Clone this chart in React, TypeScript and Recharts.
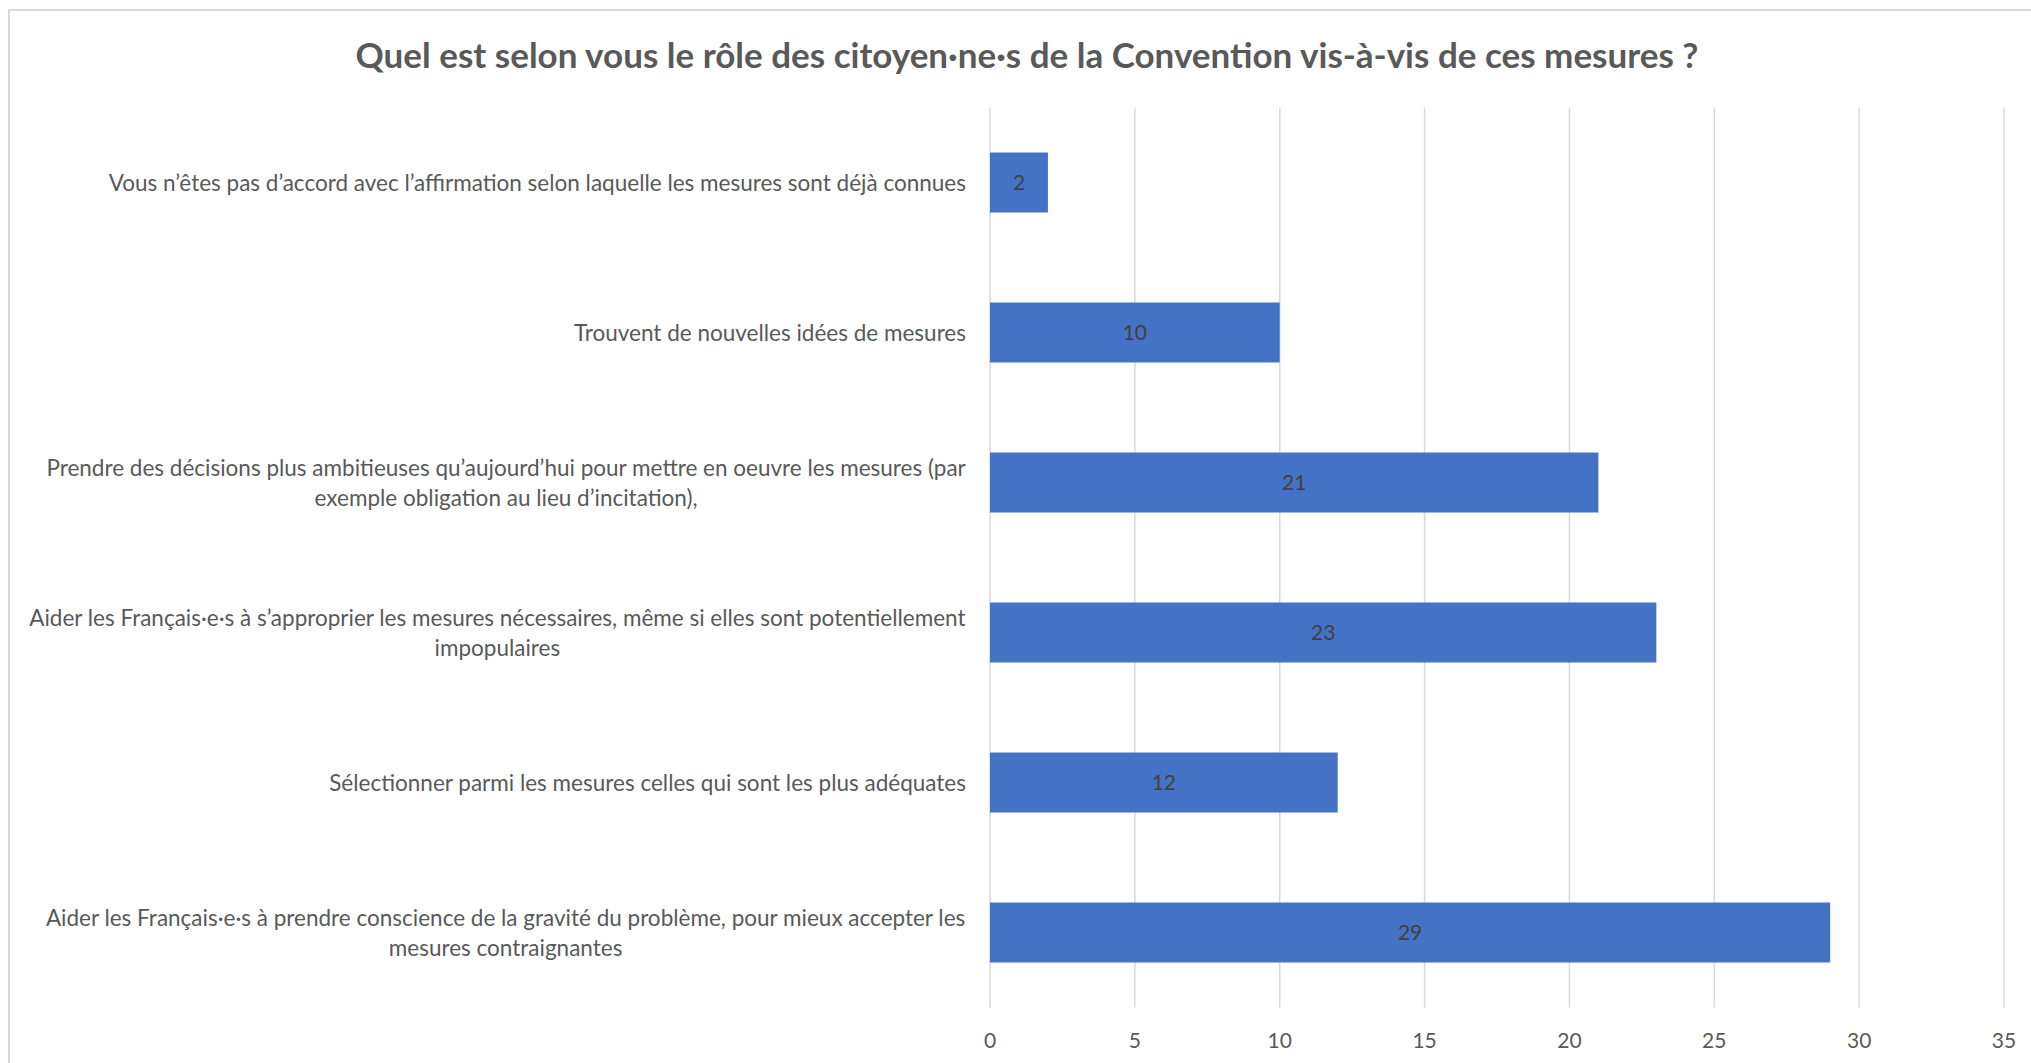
import React from "react";
import { BarChart, Bar, XAxis, YAxis, CartesianGrid, LabelList } from "recharts";

const title = "Quel est selon vous le rôle des citoyen·ne·s de la Convention vis-à-vis de ces mesures ?";

// line breaks follow the wrapping seen in the original
const categories = [
  "Vous n’êtes pas d’accord avec l’affirmation selon laquelle les mesures sont déjà connues",
  "Trouvent de nouvelles idées de mesures",
  "Prendre des décisions plus ambitieuses qu’aujourd’hui pour mettre en oeuvre les mesures (par\nexemple obligation au lieu d’incitation),",
  "Aider les Français·e·s à s’approprier les mesures nécessaires, même si elles sont potentiellement\nimpopulaires",
  "Sélectionner parmi les mesures celles qui sont les plus adéquates",
  "Aider les Français·e·s à prendre conscience de la gravité du problème, pour mieux accepter les\nmesures contraignantes",
];
const counts = [2, 10, 21, 23, 12, 29];
const xTicks = [0, 5, 10, 15, 20, 25, 30, 35];

const FONT = "Lato, 'Open Sans', sans-serif";
const LABEL_SIZE = 22.5;
const TICK_SIZE = 21;

const data = categories.map((name, i) => ({ name, value: counts[i] }));

let ctx: CanvasRenderingContext2D | null = null;
function textWidth(s: string): number {
  if (!ctx) ctx = document.createElement("canvas").getContext("2d");
  if (!ctx) return s.length * LABEL_SIZE * 0.5;
  ctx.font = `${LABEL_SIZE}px Lato`;
  return ctx.measureText(s).width;
}

function CategoryTick({ x, y, payload }: { x?: number; y?: number; payload?: { value: string } }) {
  const lines = String(payload?.value ?? "").split("\n");
  const maxW = Math.max(...lines.map(textWidth));
  const right = (x ?? 0) - 24;
  const cx = right - maxW / 2;
  const lh = 30;
  const y0 = (y ?? 0) - ((lines.length - 1) * lh) / 2;
  return (
    <g>
      {lines.map((l, i) => (
        <text
          key={i}
          x={lines.length > 1 ? cx : right}
          y={y0 + i * lh}
          textAnchor={lines.length > 1 ? "middle" : "end"}
          dominantBaseline="central"
          fill="#595959"
          fontSize={LABEL_SIZE}
          fontFamily={FONT}
        >
          {l}
        </text>
      ))}
    </g>
  );
}

function ValueTick({ x, y, payload }: { x?: number; y?: number; payload?: { value: number } }) {
  return (
    <text
      x={x}
      y={(y ?? 0) + 31.5}
      textAnchor="middle"
      dominantBaseline="central"
      fill="#595959"
      fontSize={TICK_SIZE}
      fontFamily={FONT}
    >
      {payload?.value}
    </text>
  );
}

export default function App() {
  return (
    <div style={{ position: "absolute", left: 0, top: 0, width: 2031, height: 1063, background: "#fff", overflow: "hidden" }}>
      <div style={{
        position: "absolute",
        left: 8,
        top: 9,
        width: 2040,
        height: 1070,
        borderLeft: "2px solid #d9d9d9",
        borderTop: "2px solid #d9d9d9",
      }} />
      <div style={{
        position: "absolute",
        left: 1027,
        top: 54,
        transform: "translate(-50%, -50%)",
        whiteSpace: "nowrap",
        fontFamily: FONT,
        fontWeight: 700,
        fontSize: 35,
        color: "#595959",
      }}>
        {title}
      </div>
      <BarChart
        width={2031}
        height={1063}
        data={data}
        layout="vertical"
        barCategoryGap="30%"
        margin={{ top: 107.5, right: 27, bottom: 0, left: 0 }}
      >
        <CartesianGrid horizontal={false} stroke="#d9d9d9" strokeWidth={1.5} />
        <XAxis
          type="number"
          domain={[0, 35]}
          ticks={xTicks}
          height={55.5}
          axisLine={false}
          tickLine={false}
          tickSize={0}
          tickMargin={0}
          tick={<ValueTick />}
        />
        <YAxis
          type="category"
          dataKey="name"
          width={990}
          axisLine={false}
          tickLine={false}
          tickSize={0}
          tickMargin={0}
          interval={0}
          tick={<CategoryTick />}
        />
        <Bar dataKey="value" fill="#4472C4" isAnimationActive={false}>
          <LabelList dataKey="value" position="center" fill="#404040" fontSize={TICK_SIZE} fontFamily={FONT} />
        </Bar>
      </BarChart>
    </div>
  );
}
